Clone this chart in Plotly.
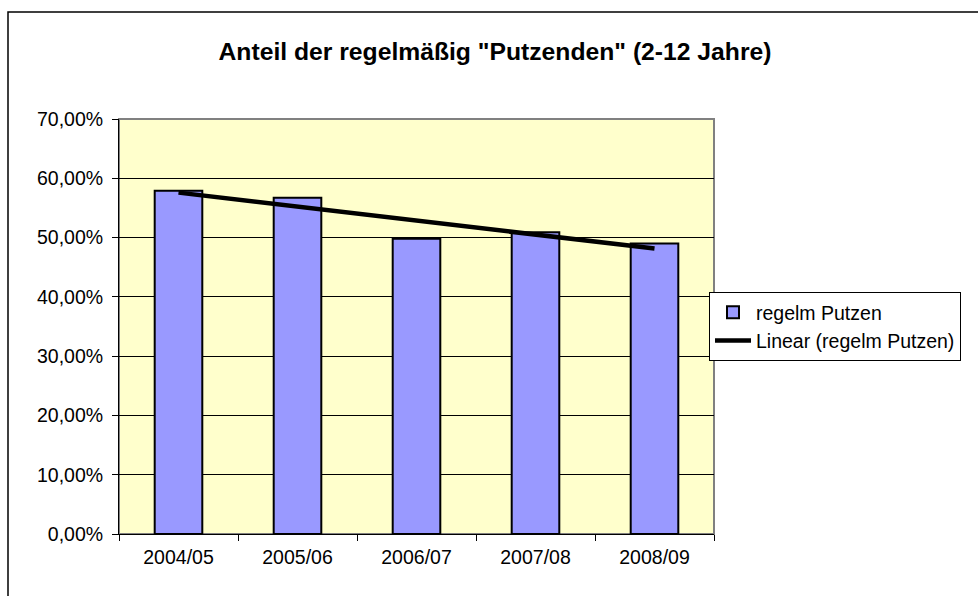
import numpy as np
import plotly.graph_objects as go

categories = ["2004/05", "2005/06", "2006/07", "2007/08", "2008/09"]
values = [0.579, 0.567, 0.498, 0.509, 0.490]
series_name = "regelm Putzen"
trend_name = "Linear (regelm Putzen)"
title_text = 'Anteil der regelmäßig "Putzenden" (2-12 Jahre)'
y_ticks = [0, 0.1, 0.2, 0.3, 0.4, 0.5, 0.6, 0.7]

# Linear trendline (least squares), as Excel computes it
xi = np.arange(len(values))
slope, intercept = np.polyfit(xi, values, 1)
trend = [intercept + slope * x for x in xi]

FONT = "Arial, Liberation Sans, sans-serif"
FS = 19.5

fig = go.Figure()
fig.add_trace(go.Bar(
    x=categories, y=values, name=series_name, width=0.4,
    marker=dict(color="#9999FF", line=dict(color="black", width=2)),
))
fig.add_trace(go.Scatter(
    x=categories, y=trend, name=trend_name, mode="lines",
    line=dict(color="black", width=4.5),
))

fig.update_layout(
    width=978, height=596,
    margin=dict(l=119, r=264, t=119, b=62),
    paper_bgcolor="white", plot_bgcolor="#FFFFCC",
    separators=",.",
    font=dict(family=FONT, size=FS, color="black"),
    title=dict(text="<b>" + title_text + "</b>", x=495 / 978, xanchor="center",
               y=1 - 51 / 596, yanchor="middle",
               font=dict(family=FONT, size=24.7, color="black")),
    showlegend=True,
    legend=dict(x=(709 - 119) / 595, xanchor="left", y=(534 - 292) / 415, yanchor="top",
                bordercolor="black", borderwidth=1, bgcolor="white",
                font=dict(family=FONT, size=FS, color="black"),
                tracegroupgap=0, itemwidth=36),
    bargap=0.6,
    xaxis=dict(type="category", range=[-0.5, 4.5], tickson="boundaries",
               ticks="outside", ticklen=6, tickcolor="black", showline=True,
               linecolor="black", linewidth=1, showgrid=False,
               tickfont=dict(family=FONT, size=FS, color="black"),
               ticklabelstandoff=6),
    yaxis=dict(range=[0, 0.7], tickvals=y_ticks, tickformat=".2%",
               ticks="outside", ticklen=6, tickcolor="black", showline=True,
               linecolor="black", linewidth=1, showgrid=True, gridcolor="black",
               gridwidth=1, zeroline=False,
               tickfont=dict(family=FONT, size=FS, color="black"),
               ticklabelstandoff=5),
)

# plot area border (gray) and chart area border (black)
fig.add_shape(type="rect", xref="paper", yref="paper", x0=0, x1=1, y0=0, y1=1,
              line=dict(color="#808080", width=2), layer="below")
fig.add_shape(type="rect", xref="paper", yref="paper",
              x0=(8 - 119) / 595, x1=(990 - 119) / 595,
              y0=(534 - 610) / 415, y1=(534 - 12) / 415,
              line=dict(color="black", width=1.5), layer="below")

fig.write_html("out.html", config={"displayModeBar": False},
               post_script="document.body.style.margin='0px';")
